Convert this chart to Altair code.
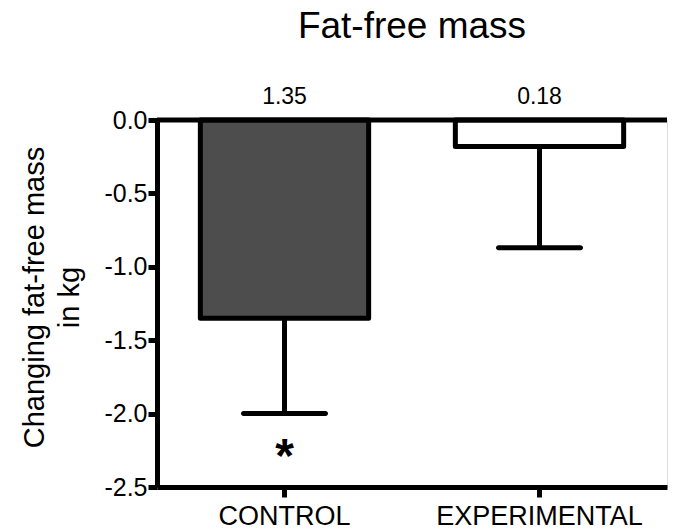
import altair as alt
import pandas as pd

# Mean change in fat-free mass (kg) with lower error bar end, per group
groups = ["CONTROL", "EXPERIMENTAL"]
means = [-1.35, -0.18]
err_low = [-2.0, -0.87]
value_labels = ["1.35", "0.18"]
fills = ["#4d4d4d", "#ffffff"]
y_ticks = [0.0, -0.5, -1.0, -1.5, -2.0, -2.5]

df = pd.DataFrame({
    "group": groups,
    "mean": means,
    "low": err_low,
    "label": value_labels,
    "fill": fills,
})

FONT = "Liberation Sans"
LW = 5

x_enc = alt.X(
    "group:N",
    sort=groups,
    scale=alt.Scale(paddingInner=0.34, paddingOuter=0.17),
    axis=alt.Axis(
        title=None, labelAngle=0, labelFontSize=27, labelFont=FONT,
        labelColor="black", labelLimit=0, domainColor="black", domainWidth=LW,
        tickColor="black", tickWidth=LW, tickSize=10, labelPadding=6,
        grid=False,
    ),
)
y_scale = alt.Scale(domain=[-2.5, 0], nice=False, zero=False)
y_enc = alt.Y(
    "mean:Q",
    scale=y_scale,
    axis=alt.Axis(
        title=["Changing fat-free mass", "in kg"],
        titleFontSize=29, titleFont=FONT, titleFontWeight="normal",
        titleColor="black", titleLineHeight=35,
        titleX=-108, titleY=177, titleBaseline="bottom", titleAngle=270,
        values=y_ticks,
        labelExpr="datum.value == 0 ? '0.0' : '-' + format(abs(datum.value), '.1f')",
        labelFontSize=25, labelFont=FONT, labelColor="black", labelPadding=1,
        domainColor="black", domainWidth=LW,
        tickColor="black", tickWidth=LW, tickSize=9, grid=False,
    ),
)

base = alt.Chart(df)

bars = base.mark_bar(stroke="black", strokeWidth=LW, strokeJoin="round").encode(
    x=x_enc,
    y=y_enc,
    y2=alt.datum(0),
    fill=alt.Fill("fill:N", scale=None),
)

stems = base.mark_rule(color="black", strokeWidth=LW).encode(
    x=alt.X("group:N", sort=groups),
    y=alt.Y("mean:Q", scale=y_scale),
    y2="low:Q",
)

caps = base.mark_tick(color="black", opacity=1, size=87, thickness=LW,
                      cornerRadius=2.5, orient="horizontal").encode(
    x=alt.X("group:N", sort=groups),
    y=alt.Y("low:Q", scale=y_scale),
)

zero_line = alt.Chart(pd.DataFrame({"z": [0.0]})).mark_rule(
    color="black", strokeWidth=LW
).encode(y=alt.Y("z:Q", scale=y_scale))

value_text = base.mark_text(
    font=FONT, fontSize=23, baseline="alphabetic", dy=-16, color="black"
).encode(
    x=alt.X("group:N", sort=groups),
    y=alt.datum(0),
    text="label:N",
)

star = alt.Chart(pd.DataFrame({"group": ["CONTROL"], "low": [-2.0], "s": ["*"]})).mark_text(
    font=FONT, fontSize=48, fontWeight="bold", baseline="alphabetic", dy=58, color="black"
).encode(
    x=alt.X("group:N", sort=groups),
    y=alt.Y("low:Q", scale=y_scale),
    text="s:N",
)

chart = alt.layer(bars, stems, caps, zero_line, value_text, star).properties(
    width=510,
    height=367,
    autosize="none",
    padding={"left": 157, "top": 120, "right": 10, "bottom": 45},
    title=alt.TitleParams(
        "Fat-free mass", fontSize=37, font=FONT, fontWeight="normal",
        color="black", anchor="middle", frame="group", offset=11,
        baseline="alphabetic",
    ),
).configure_view(stroke=None).configure(background="white")

chart.save("out.html", embed_options={"renderer": "svg", "actions": False})
